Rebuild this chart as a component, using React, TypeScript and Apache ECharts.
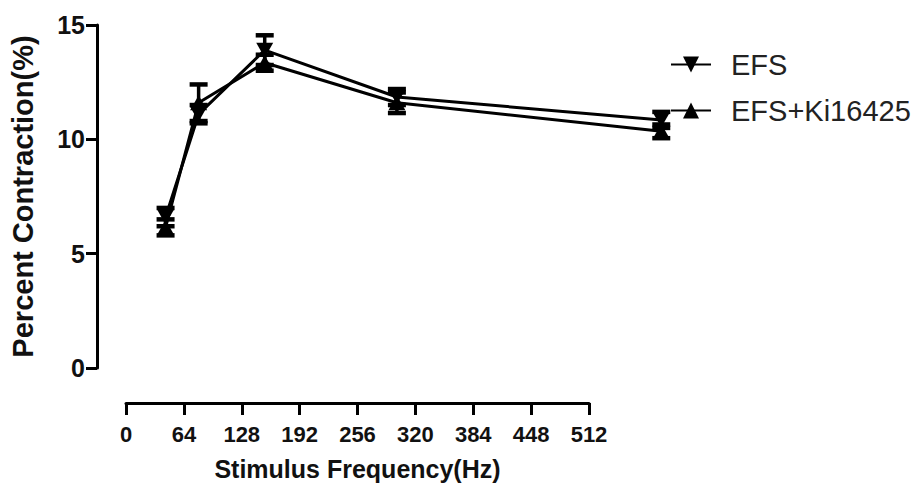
import React, { useEffect, useRef } from "react";
import * as echarts from "echarts";

const frequencies = [32, 64, 128, 256, 512];
const efsMean = [6.6, 11.1, 13.9, 11.85, 10.85];
const efsErr = [0.4, 0.4, 0.65, 0.35, 0.35];
const kiMean = [6.15, 11.6, 13.35, 11.6, 10.35];
const kiErr = [0.35, 0.8, 0.35, 0.45, 0.3];
const xTicks = [0, 64, 128, 192, 256, 320, 384, 448, 512];
const yTicks = [0, 5, 10, 15];

const FONT = "'Liberation Sans', Arial, sans-serif";

export default function App() {
  const ref = useRef<HTMLDivElement>(null);
  useEffect(() => {
    if (!ref.current) return;
    const chart = echarts.init(ref.current, undefined, { renderer: "svg" });
    const errData = (means: number[], errs: number[]) =>
      frequencies.map((f, i) => [f, means[i], errs[i]]);
    const renderErr = (params: any, api: any) => {
      const x = api.value(0);
      const y = api.value(1);
      const e = api.value(2);
      const top = api.coord([x, y + e]);
      const bot = api.coord([x, y - e]);
      const hw = 9;
      return {
        type: "group",
        children: [
          { type: "line", shape: { x1: top[0], y1: top[1], x2: bot[0], y2: bot[1] }, style: { stroke: "#000", lineWidth: 3.5 } },
          { type: "line", shape: { x1: top[0] - hw, y1: top[1], x2: top[0] + hw, y2: top[1] }, style: { stroke: "#000", lineWidth: 4.5 } },
          { type: "line", shape: { x1: bot[0] - hw, y1: bot[1], x2: bot[0] + hw, y2: bot[1] }, style: { stroke: "#000", lineWidth: 4.5 } },
        ],
      };
    };
    chart.setOption({
      animation: false,
      backgroundColor: "#fff",
      textStyle: { fontFamily: FONT },
      grid: [
        { left: 95, top: 25, width: 605, height: 343 },
        { left: 126, top: 380, width: 463, height: 23 },
      ],
      xAxis: [
        { gridIndex: 0, type: "value", min: -34.4, max: 549.5, show: false },
        {
          gridIndex: 1,
          type: "value",
          min: xTicks[0],
          max: xTicks[xTicks.length - 1],
          interval: 64,
          position: "bottom",
          axisLine: { show: true, onZero: false, lineStyle: { color: "#000", width: 3 } },
          axisTick: { show: true, length: 12, lineStyle: { color: "#000", width: 3 } },
          axisLabel: { color: "#111", fontSize: 22, fontWeight: "bold", fontFamily: FONT, margin: 20 },
          splitLine: { show: false },
          name: "Stimulus Frequency(Hz)",
          nameLocation: "middle",
          nameGap: 53,
          nameTextStyle: { color: "#111", fontSize: 25, fontWeight: "bold", fontFamily: FONT },
        },
      ],
      yAxis: [
        {
          gridIndex: 0,
          type: "value",
          min: yTicks[0],
          max: yTicks[yTicks.length - 1],
          interval: 5,
          axisLine: { show: true, onZero: false, lineStyle: { color: "#000", width: 3 } },
          axisTick: { show: true, length: 11, lineStyle: { color: "#000", width: 3 } },
          axisLabel: { color: "#111", fontSize: 25, fontWeight: "bold", fontFamily: FONT, margin: 12 },
          splitLine: { show: false },
          name: "Percent Contraction(%)",
          nameLocation: "middle",
          nameGap: 60,
          nameTextStyle: { color: "#111", fontSize: 29, fontWeight: "bold", fontFamily: FONT },
        },
        { gridIndex: 1, type: "value", show: false },
      ],
      legend: {
        orient: "vertical",
        left: 665,
        top: 45,
        itemWidth: 40,
        itemHeight: 20,
        itemGap: 17,
        textStyle: { color: "#222", fontSize: 29, fontFamily: FONT, padding: [0, 0, 0, 15] },
        data: ["EFS", "EFS+Ki16425"],
      },
      series: [
        {
          name: "EFS",
          type: "line",
          xAxisIndex: 0,
          yAxisIndex: 0,
          data: frequencies.map((f, i) => [f, efsMean[i]]),
          symbol: "triangle",
          symbolRotate: 180,
          symbolSize: [17, 15],
          itemStyle: { color: "#000" },
          lineStyle: { color: "#000", width: 3 },
          z: 3,
        },
        {
          name: "EFS+Ki16425",
          type: "line",
          xAxisIndex: 0,
          yAxisIndex: 0,
          data: frequencies.map((f, i) => [f, kiMean[i]]),
          symbol: "triangle",
          symbolSize: [17, 15],
          itemStyle: { color: "#000" },
          lineStyle: { color: "#000", width: 3 },
          z: 3,
        },
        {
          type: "custom",
          xAxisIndex: 0,
          yAxisIndex: 0,
          data: errData(efsMean, efsErr),
          renderItem: renderErr,
          z: 4,
        },
        {
          type: "custom",
          xAxisIndex: 0,
          yAxisIndex: 0,
          data: errData(kiMean, kiErr),
          renderItem: renderErr,
          z: 4,
        },
      ],
    });
    return () => chart.dispose();
  }, []);
  return (
    <div
      ref={ref}
      style={{ position: "fixed", left: 0, top: 0, width: 917, height: 484, background: "#fff" }}
    />
  );
}
